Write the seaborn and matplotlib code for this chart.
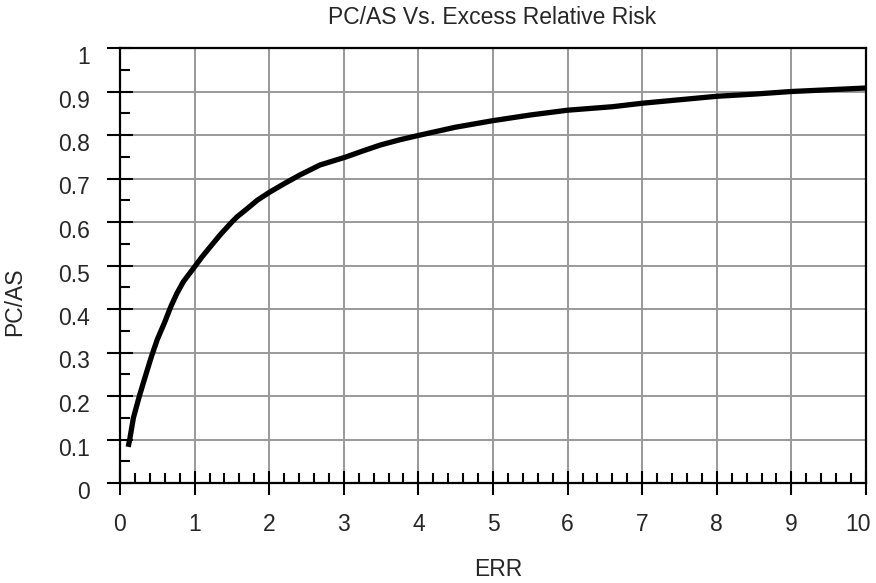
import numpy as np
import pandas as pd
import matplotlib
matplotlib.use("Agg")
import matplotlib.pyplot as plt
import matplotlib.transforms as mtransforms
import seaborn as sns
from matplotlib.ticker import MultipleLocator, FixedLocator, FixedFormatter

# Excess relative risk and the corresponding probability of causation
err = [0.11, 0.13, 0.18, 0.26, 0.33, 0.42, 0.50, 0.60, 0.68, 0.76, 0.85, 1.00,
       1.10, 1.21, 1.35, 1.50, 1.57, 1.70, 1.84, 2.00, 2.20, 2.41, 2.68, 3.02,
       3.25, 3.49, 3.75, 4.00, 4.50, 5.00, 5.50, 6.00, 6.60, 7.00, 7.50, 8.00,
       8.50, 9.00, 9.50, 10.00]
pc_as = [0.083, 0.100, 0.150, 0.200, 0.240, 0.290, 0.330, 0.370, 0.405, 0.435,
         0.463, 0.497, 0.520, 0.543, 0.572, 0.600, 0.612, 0.630, 0.650, 0.668,
         0.688, 0.708, 0.731, 0.749, 0.763, 0.777, 0.789, 0.799, 0.818, 0.833,
         0.846, 0.857, 0.865, 0.873, 0.881, 0.889, 0.894, 0.900, 0.904, 0.908]

x_ticks = [0, 1, 2, 3, 4, 5, 6, 7, 8, 9, 10]
y_ticks = [0, 0.1, 0.2, 0.3, 0.4, 0.5, 0.6, 0.7, 0.8, 0.9, 1.0]
y_labels = ["0", "0.1", "0.2", "0.3", "0.4", "0.5", "0.6", "0.7", "0.8", "0.9", "1"]

df = pd.DataFrame({"ERR": err, "PC/AS": pc_as})

sns.set_style("white")
plt.rcParams["font.family"] = ["Liberation Sans", "DejaVu Sans"]

fig = plt.figure(figsize=(8.76, 5.83), dpi=100)
W, H = 876, 583
ax = fig.add_axes([120 / W, 1 - 483 / H, (866 - 120) / W, (483 - 48) / H])

sns.lineplot(data=df, x="ERR", y="PC/AS", ax=ax, color="black", linewidth=3.8,
             solid_capstyle="butt")

ax.set_xlim(0, 10)
ax.set_ylim(0, 1)
ax.xaxis.set_major_locator(FixedLocator(x_ticks))
ax.xaxis.set_minor_locator(MultipleLocator(0.2))
ax.yaxis.set_major_locator(FixedLocator(y_ticks))
ax.yaxis.set_major_formatter(FixedFormatter(y_labels))
ax.yaxis.set_minor_locator(MultipleLocator(0.05))

ax.grid(True, which="major", color="#999999", linewidth=1.4)
ax.set_axisbelow(True)
for s in ax.spines.values():
    s.set_visible(True)
    s.set_color("black")
    s.set_linewidth(1.6)

ax.tick_params(axis="x", which="major", direction="inout", length=17.5, width=1.5,
               color="black", labelsize=16.5, bottom=True, pad=12.5)
ax.tick_params(axis="y", which="major", direction="inout", length=19, width=1.5,
               color="black", labelsize=16.5, left=True, pad=12)
ax.tick_params(axis="both", which="minor", direction="in", length=7, width=1.5,
               color="black", bottom=True, left=True)

# y tick labels sit slightly below their ticks
shift = mtransforms.ScaledTranslation(0, -7 / 100, fig.dpi_scale_trans)
for t in ax.yaxis.get_major_ticks():
    t.label1.set_transform(t.label1.get_transform() + shift)

# the last x label is pulled in so it stays inside the figure
last = ax.xaxis.get_major_ticks()[-1]
last.label1.set_transform(last.label1.get_transform() +
                          mtransforms.ScaledTranslation(-8 / 100, 0, fig.dpi_scale_trans))

ax.set_xlabel("")
ax.set_ylabel("")
fig.text(498 / W, 1 - 569 / H, "ERR", ha="center", va="center", fontsize=16.5)
fig.text(15 / W, 1 - 302 / H, "PC/AS", ha="center", va="center", rotation=90,
         fontsize=16.5)
fig.text(492 / W, 1 - 18 / H, "PC/AS Vs. Excess Relative Risk", ha="center",
         va="center", fontsize=16.5)

fig.savefig("out.png", dpi=100)
